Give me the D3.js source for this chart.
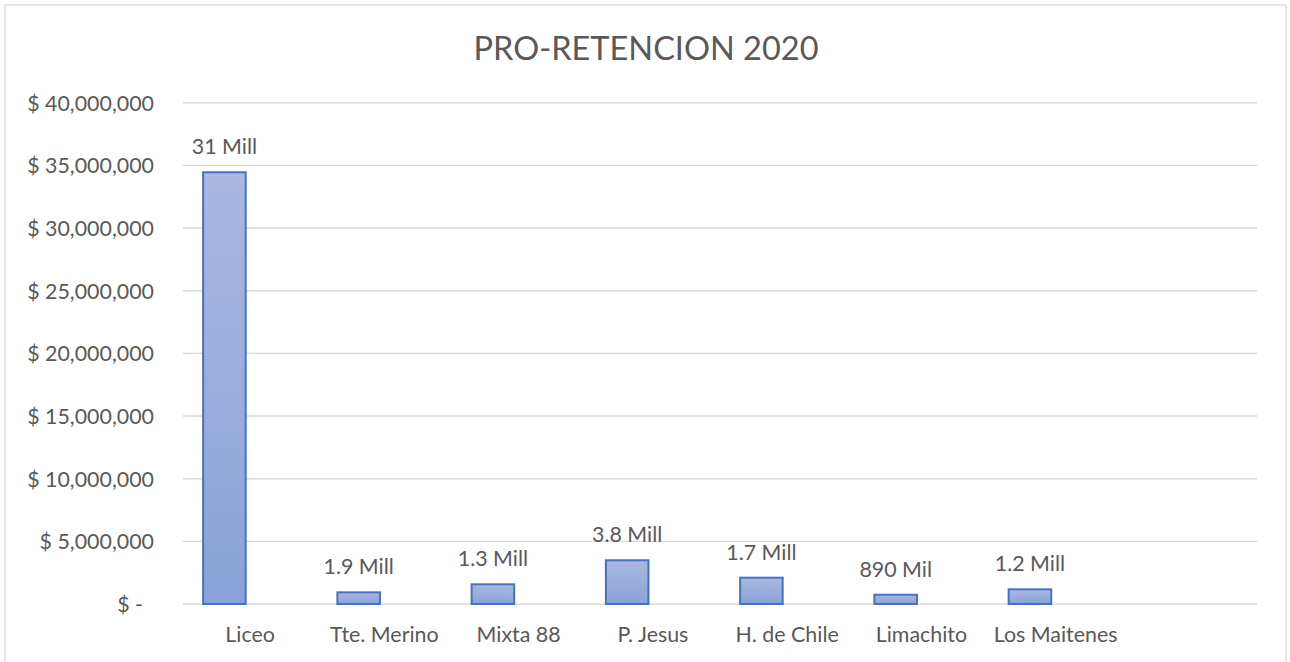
<!DOCTYPE html>
<html>
<head>
<meta charset="utf-8">
<script src="https://cdn.jsdelivr.net/npm/d3@7"></script>
<style>
  html, body { margin: 0; padding: 0; background: #fff; }
  svg { display: block; }
  text { font-family: Lato, "Open Sans", sans-serif; fill: #595959; }
</style>
</head>
<body>
<svg id="chart" width="1290" height="662"></svg>
<script>
// ---- data ----
const title = "PRO-RETENCION 2020";
const categories = ["Liceo", "Tte. Merino", "Mixta 88", "P. Jesus", "H. de Chile", "Limachito", "Los Maitenes", ""];
const values = [34450000, 930000, 1570000, 3490000, 2100000, 740000, 1170000, null];
const dataLabels = ["31 Mill", "1.9 Mill", "1.3 Mill", "3.8 Mill", "1.7 Mill", "890 Mil", "1.2 Mill", ""];
const yTicks = [0, 5000000, 10000000, 15000000, 20000000, 25000000, 30000000, 35000000, 40000000];

// ---- layout ----
const svg = d3.select("#chart");
const W = 1290, H = 662;
const plot = { left: 183, right: 1257, top: 102.7, bottom: 604 };

// chart border
svg.append("rect")
  .attr("x", 5).attr("y", 5)
  .attr("width", 1281).attr("height", 680)
  .attr("fill", "#fff").attr("stroke", "#d9d9d9").attr("stroke-width", 1.3);

const x = d3.scaleBand().domain(categories).range([plot.left, plot.right]).padding(0);
const y = d3.scaleLinear().domain([0, 40000000]).range([plot.bottom, plot.top]);

// gradient
const defs = svg.append("defs");
const grad = defs.append("linearGradient").attr("id", "barGrad")
  .attr("x1", 0).attr("y1", 0).attr("x2", 0).attr("y2", 1);
grad.append("stop").attr("offset", "0%").attr("stop-color", "#aab8e1");
grad.append("stop").attr("offset", "100%").attr("stop-color", "#8aa2d9");

// gridlines
svg.append("g").selectAll("line").data(yTicks).join("line")
  .attr("x1", plot.left).attr("x2", plot.right)
  .attr("y1", d => y(d)).attr("y2", d => y(d))
  .attr("stroke", "#d9d9d9").attr("stroke-width", 1.4);

// y axis labels
const fmt = d3.format(",");
const yAxis = d3.axisLeft(y).tickValues(yTicks).tickSize(0).tickPadding(29)
  .tickFormat(d => d === 0 ? "$ -" : "$ " + fmt(d));
const gy = svg.append("g").attr("transform", `translate(${plot.left},0)`).call(yAxis);
gy.select(".domain").remove();
gy.selectAll("text")
  .attr("font-family", "Lato, sans-serif")
  .attr("font-size", 21.4).attr("fill", "#595959")
  .attr("dy", "0.35em")
  .attr("x", d => d === 0 ? -40 : -29);

// bars (first series bar sits left of category centre)
const barW = x.bandwidth() * 0.317;
const barOff = x.bandwidth() * 0.15;
const barData = categories.map((c, i) => ({ c, v: values[i], label: dataLabels[i] })).filter(d => d.v != null);

svg.append("g").selectAll("rect").data(barData).join("rect")
  .attr("x", d => x(d.c) + barOff)
  .attr("y", d => y(d.v))
  .attr("width", barW)
  .attr("height", d => y(0) - y(d.v))
  .attr("fill", "url(#barGrad)")
  .attr("stroke", "#4472c4").attr("stroke-width", 2);

// data labels
svg.append("g").selectAll("text").data(barData).join("text")
  .attr("x", d => x(d.c) + barOff + barW / 2)
  .attr("y", d => y(d.v) - 18)
  .attr("text-anchor", "middle")
  .attr("font-size", 21.4)
  .text(d => d.label);

// x axis labels
const xAxis = d3.axisBottom(x).tickSize(0).tickPadding(23);
const gx = svg.append("g").attr("transform", `translate(0,${plot.bottom})`).call(xAxis);
gx.select(".domain").remove();
gx.selectAll("text")
  .attr("font-family", "Lato, sans-serif")
  .attr("font-size", 21.4).attr("fill", "#595959");

// title
svg.append("text")
  .attr("x", 646).attr("y", 60)
  .attr("text-anchor", "middle")
  .attr("font-size", 32.5)
  .text(title);
</script>
</body>
</html>
